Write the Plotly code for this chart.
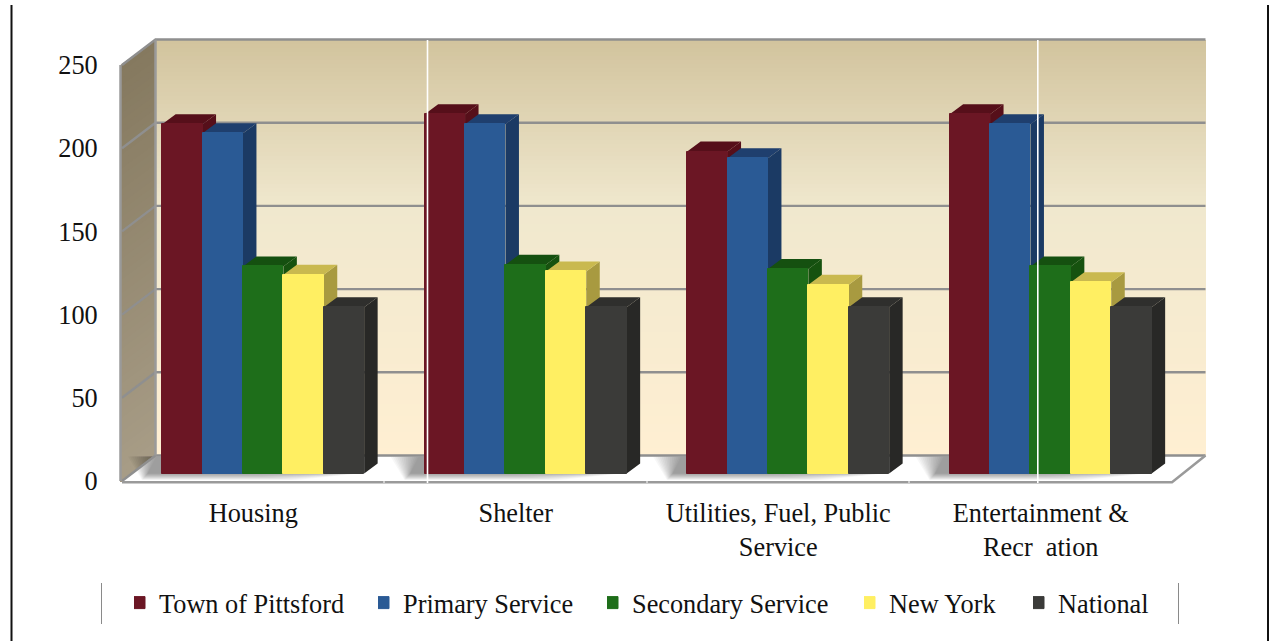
import plotly.graph_objects as go

categories = ["Housing", "Shelter", "Utilities, Fuel, Public<br>Service", "Entertainment &<br>Recr  ation"]
series_names = ["Town of Pittsford", "Primary Service", "Secondary Service", "New York", "National"]
town = [210, 216, 193.5, 216]
primary = [204.5, 210, 189.5, 210]
secondary = [124.5, 125.5, 123, 124.5]
new_york = [119.5, 121.5, 113.5, 115]
national = [100, 100, 100, 100]
y_ticks = [0, 50, 100, 150, 200, 250]

all_values = [town, primary, secondary, new_york, national]
front_colors = ["#6B1624", "#2A5A95", "#1E6E1A", "#FFEF62", "#3B3B39"]
top_colors = ["#560F1A", "#1F3F6E", "#155010", "#C9B94F", "#2F2F2D"]
side_colors = ["#560F1A", "#1B3A64", "#16520F", "#A89A40", "#282826"]
legend_text_px = [159, 403, 632, 889, 1058]

W, H = 1270, 641
# pixel frame of the plotting area
PL, PR, PT, PB = 115, 1210, 36, 486
# pixel scale of the axes
X0, XS = 122, 262.5   # px of category edge, px per category
Y0, YS = 481, 1.664   # px of value 0, px per value unit


def xd(px):
    return (px - X0) / XS - 0.5


def yd(py):
    return (Y0 - py) / YS


def xp(px):
    return (px - PL) / (PR - PL)


def yp(py):
    return (PB - py) / (PB - PT)


x_range = [xd(PL), xd(PR)]
y_range = [yd(PB), yd(PT)]

WALL_DX = 33.5 / XS
WALL_DV = 25.5 / YS
BAR_SHIFT = 9.9 / XS
BAR_BASE = 7.4 / YS
BAR_W = 40.4 / XS
BAR_DX = 13.5 / XS
BAR_DV = 10 / YS


def lerp_hex(a, b, t):
    ca = [int(a[i:i + 2], 16) for i in (1, 3, 5)]
    cb = [int(b[i:i + 2], 16) for i in (1, 3, 5)]
    return "rgb(%d,%d,%d)" % tuple(round(p + (q - p) * t) for p, q in zip(ca, cb))


shapes = []
# back wall gradient
stops = [(40, "#D2C49E"), (206, "#F0E8CE"), (455, "#FFEFD2")]
py = 40
while py < 456:
    for (p0, c0), (p1, c1) in zip(stops, stops[1:]):
        if p0 <= py <= p1:
            col = lerp_hex(c0, c1, (py - p0) / (p1 - p0))
    shapes.append(dict(type="rect", xref="x", yref="y", layer="below", x0=xd(155), x1=xd(1206),
                       y0=yd(456), y1=yd(py), fillcolor=col, line_width=0))
    py += 4
# left wall gradient
N = 60
for i in range(N):
    t = i / N
    yl = 65 + t * 416
    yr = 40 + t * 415
    col = lerp_hex("#85795F", "#A89D87", t)
    path = f"M{xd(120.5)},{yd(yl)} L{xd(155)},{yd(yr)} L{xd(155)},{yd(455)} L{xd(120.5)},{yd(482)} Z"
    shapes.append(dict(type="path", xref="x", yref="y", layer="below", path=path, fillcolor=col, line_width=0))
# floor
path = f"M{xd(122)},{yd(481)} L{xd(155)},{yd(455)} L{xd(1206)},{yd(455)} L{xd(1172)},{yd(481)} Z"
shapes.append(dict(type="path", xref="x", yref="y", layer="below", path=path, fillcolor="#FFFFFF", line_width=0))
# soft shadows on the floor
for c in range(4):
    L = X0 + XS * c + 40
    R = L + 202
    for k in range(14):
        t = (k + 1) / 14
        pts = [(L - 30 * t - 4, 456.5), (R, 456.5), (R, 473), (L + 60 + 75 * t, 473 + 7 * t),
               (L - 14 - 6 * t, 473 + 7 * t)]
        path = "M" + " L".join(f"{xd(a)},{yd(b)}" for a, b in pts) + " Z"
        shapes.append(dict(type="path", xref="x", yref="y", layer="below", path=path,
                           fillcolor="rgba(0,0,0,0.032)", line_width=0))

fig = go.Figure()

# grid lines following the left wall and the back wall
gx, gy = [], []
left, right = -0.5, 3.5
for v in y_ticks:
    gx += [left, left + WALL_DX, right + WALL_DX, None]
    gy += [v, v + WALL_DV, v + WALL_DV, None]
fig.add_trace(go.Scatter(x=gx, y=gy, mode="lines", line=dict(color="#8F8F8F", width=2.4),
                         hoverinfo="skip", showlegend=False))
# floor front and right edge, wall corners
fig.add_trace(go.Scatter(x=[left + WALL_DX, left + WALL_DX, None, xd(120.5), xd(120.5), None,
                            left, right, right + WALL_DX],
                         y=[0 + WALL_DV, 250 + WALL_DV, None, 0, 250, None, -0.7, -0.7, WALL_DV],
                         mode="lines", line=dict(color="#9A9A9A", width=2.5),
                         hoverinfo="skip", showlegend=False))

# depth faces of the bars, painted series by series
for i, vals in enumerate(all_values):
    sx, sy, tx, ty = [], [], [], []
    for c, v in enumerate(vals):
        xl = c + BAR_SHIFT + (i - 2.5) * BAR_W
        xr = xl + BAR_W
        b = BAR_BASE
        t = BAR_BASE + v
        sx += [xr, xr, xr + BAR_DX, xr + BAR_DX, xr, None]
        sy += [b, t, t + BAR_DV, b + BAR_DV, b, None]
        tx += [xl, xr, xr + BAR_DX, xl + BAR_DX, xl, None]
        ty += [t, t, t + BAR_DV, t + BAR_DV, t, None]
    fig.add_trace(go.Scatter(x=sx, y=sy, mode="lines", fill="toself", fillcolor=side_colors[i],
                             line=dict(width=0, color=side_colors[i]), hoverinfo="skip", showlegend=False))
    fig.add_trace(go.Scatter(x=tx, y=ty, mode="lines", fill="toself", fillcolor=top_colors[i],
                             line=dict(width=0, color=top_colors[i]), hoverinfo="skip", showlegend=False))

font = dict(family="Liberation Serif", size=26.3, color="#111111")

# front faces on an overlaid subplot, each series with its own placed legend
legends = {}
for i, vals in enumerate(all_values):
    key = "legend" if i == 0 else f"legend{i + 1}"
    legends[key] = dict(orientation="h", x=xp(legend_text_px[i] - 25), xanchor="left",
                        y=yp(603), yanchor="middle", font=font, itemwidth=30, indentation=-15,
                        bgcolor="rgba(0,0,0,0)")
    fig.add_trace(go.Bar(x=[c + BAR_SHIFT for c in range(4)], y=vals, base=BAR_BASE, width=BAR_W,
                         offset=(i - 2.5) * BAR_W, name=series_names[i], legend=key,
                         marker=dict(color=front_colors[i], line=dict(color=front_colors[i], width=1)),
                         xaxis="x2", yaxis="y2"))

# picture artefacts: white rules, page borders, legend separators
for px in (427.5, 1037.8):
    shapes.append(dict(type="line", xref="paper", yref="paper", x0=xp(px), x1=xp(px), y0=yp(40), y1=yp(483),
                       line=dict(color="#FFFFFF", width=1.6)))
for px in (384, 647, 909):
    shapes.append(dict(type="line", xref="paper", yref="paper", x0=xp(px), x1=xp(px), y0=yp(480), y1=yp(483),
                       line=dict(color="#FFFFFF", width=1)))
for px, w in ((11.5, 2), (1268, 2)):
    shapes.append(dict(type="line", xref="paper", yref="paper", x0=xp(px), x1=xp(px), y0=yp(5), y1=yp(641),
                       line=dict(color="#111111", width=w)))
for px in (101.5, 1178.5):
    shapes.append(dict(type="line", xref="paper", yref="paper", x0=xp(px), x1=xp(px), y0=yp(583), y1=yp(624),
                       line=dict(color="#8A8A8A", width=1)))

fig.update_layout(
    width=W, height=H, autosize=False,
    margin=dict(l=PL, r=W - PR, t=PT, b=H - PB, pad=0),
    paper_bgcolor="#FFFFFF", plot_bgcolor="rgba(0,0,0,0)",
    font=font, shapes=shapes, bargap=0,
    barmode="overlay",
    showlegend=True,
    xaxis=dict(range=x_range, tickmode="array", tickvals=[0, 1, 2, 3], ticktext=categories,
               showgrid=False, zeroline=False, showline=False, ticks="outside", ticklen=3,
               tickcolor="rgba(0,0,0,0)", tickfont=font),
    yaxis=dict(range=y_range, tickmode="array", tickvals=y_ticks,
               showgrid=False, zeroline=False, showline=False, ticks="outside", ticklen=11,
               tickcolor="rgba(0,0,0,0)", tickfont=font),
    xaxis2=dict(range=x_range, overlaying="x", visible=False),
    yaxis2=dict(range=y_range, overlaying="y", visible=False),
    **legends,
)

fig.write_html("out.html", config=dict(displayModeBar=False),
               post_script="document.body.style.margin='0';")
